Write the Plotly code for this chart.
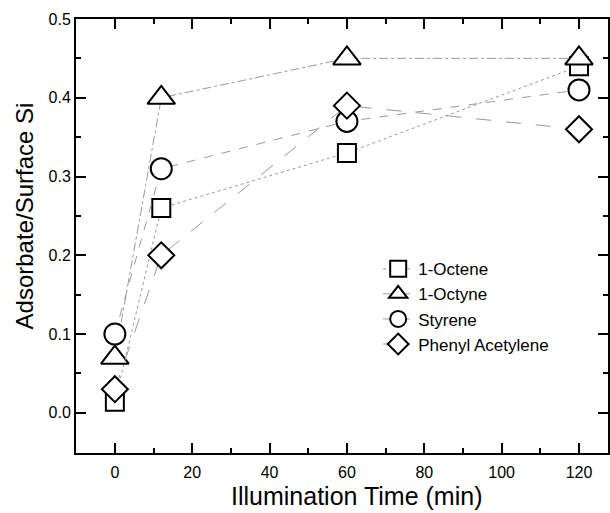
import plotly.graph_objects as go

# Illumination time (min) and adsorbate coverage per surface Si
time_min = [0, 12, 60, 120]
octene = [0.014, 0.26, 0.33, 0.44]
octyne = [0.07, 0.40, 0.45, 0.45]
styrene = [0.10, 0.31, 0.37, 0.41]
phenyl_acetylene = [0.03, 0.20, 0.39, 0.36]

series_names = ["1-Octene", "1-Octyne", "Styrene", "Phenyl Acetylene"]
series_values = [octene, octyne, styrene, phenyl_acetylene]
symbols = ["square", "triangle-up", "circle", "diamond"]
sizes = [18, 24, 21, 20]
dashes = ["dot", "dashdot", "dash", "longdash"]

FONT = "Liberation Sans, Arial, sans-serif"

fig = go.Figure()
for name, vals, sym, sz, dash in zip(series_names, series_values, symbols, sizes, dashes):
    fig.add_trace(go.Scatter(
        x=time_min, y=vals, name=name, mode="lines+markers",
        line=dict(color="#9a9a9a", width=1, dash=dash),
        marker=dict(symbol=sym, size=sz, color="white",
                    line=dict(color="black", width=2)),
    ))

axis_common = dict(
    showline=True, linecolor="black", linewidth=2, mirror="ticks",
    ticks="inside", ticklen=10, tickwidth=2, tickcolor="black",
    showgrid=False, zeroline=False,
    tickfont=dict(family=FONT, size=16, color="black"),
)

fig.update_xaxes(
    range=[-10.05, 127.5], tickmode="linear", tick0=0, dtick=20,
    minor=dict(ticks="inside", ticklen=5, tickwidth=2, tickcolor="black", dtick=10, tick0=0),
    ticklabelstandoff=4,
    **axis_common,
)
fig.update_yaxes(
    range=[-0.051, 0.5], tickmode="linear", tick0=0, dtick=0.1, tickformat=".1f",
    minor=dict(ticks="inside", ticklen=5, tickwidth=2, tickcolor="black", dtick=0.05, tick0=0),
    **axis_common,
)

# axis titles
fig.add_annotation(text="Illumination Time (min)", xref="paper", yref="paper",
                   x=0.528, y=-0.099, xanchor="center", yanchor="middle",
                   showarrow=False, font=dict(family=FONT, size=25, color="black"))
fig.add_annotation(text="Adsorbate/Surface Si", xref="paper", yref="paper",
                   x=-0.097, y=0.546, xanchor="center", yanchor="middle",
                   textangle=-90, showarrow=False,
                   font=dict(family=FONT, size=24, color="black"))

fig.update_layout(
    width=610, height=513,
    margin=dict(l=76, r=0, t=19, b=60),
    paper_bgcolor="white", plot_bgcolor="white",
    font=dict(family=FONT, color="black"),
    showlegend=True,
    legend=dict(
        x=0.568, y=0.465, xanchor="left", yanchor="top",
        bgcolor="rgba(0,0,0,0)", borderwidth=0,
        font=dict(family=FONT, size=17, color="black"),
        tracegroupgap=0,
    ),
)

fig.write_html("out.html")
